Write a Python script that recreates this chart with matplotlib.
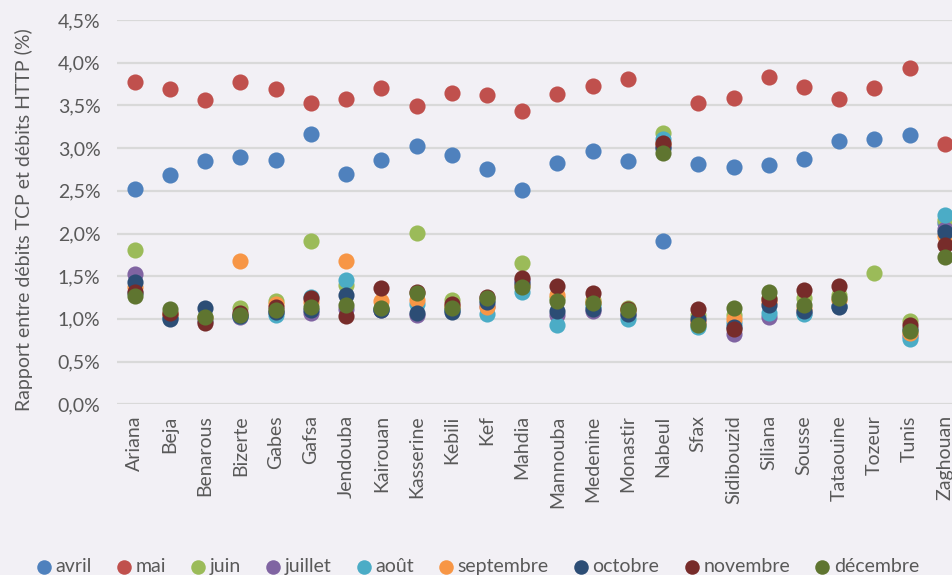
import numpy as np
import matplotlib.pyplot as plt
from matplotlib.ticker import FuncFormatter

nan = np.nan

regions = ["Ariana", "Beja", "Benarous", "Bizerte", "Gabes", "Gafsa", "Jendouba",
           "Kairouan", "Kasserine", "Kebili", "Kef", "Mahdia", "Mannouba",
           "Medenine", "Monastir", "Nabeul", "Sfax", "Sidibouzid", "Siliana",
           "Sousse", "Tataouine", "Tozeur", "Tunis", "Zaghouan"]

months = ["avril", "mai", "juin", "juillet", "août", "septembre",
          "octobre", "novembre", "décembre"]

# ratio TCP / HTTP in %, one list per month (order = regions)
avril = [2.52, 2.68, 2.85, 2.90, 2.86, 3.17, 2.70, 2.86, 3.03, 2.92, 2.76, 2.51,
         2.83, 2.97, 2.85, 1.91, 2.81, 2.78, 2.80, 2.87, 3.08, 3.11, 3.15, 2.12]
mai = [3.77, 3.69, 3.57, 3.77, 3.69, 3.53, 3.58, 3.70, 3.49, 3.65, 3.62, 3.43,
       3.63, 3.73, 3.81, nan, 3.53, 3.59, 3.83, 3.72, 3.58, 3.70, 3.94, 3.05]
juin = [1.81, 1.05, 1.02, 1.13, 1.21, 1.91, 1.40, 1.12, 2.01, 1.22, 1.22, 1.65,
        1.25, 1.22, 1.13, 3.18, 1.05, 1.05, 1.25, 1.24, 1.28, 1.54, 0.98, 2.16]
juillet = [1.53, 1.03, 0.97, 1.02, 1.08, 1.07, 1.12, 1.10, 1.04, 1.10, 1.15, 1.46,
           1.04, 1.09, 1.05, 3.02, 0.95, 0.82, 1.02, 1.07, 1.15, nan, 0.80, 2.05]
aout = [1.30, 1.01, 1.00, 1.03, 1.05, 1.26, 1.46, 1.12, 1.17, 1.10, 1.06, 1.32,
        0.93, 1.15, 1.00, 3.11, 0.90, 0.95, 1.07, 1.06, 1.15, nan, 0.77, 2.22]
septembre = [1.37, 1.06, 1.01, 1.68, 1.18, 1.20, 1.68, 1.21, 1.22, 1.15, 1.14, 1.40,
             1.28, 1.20, 1.10, 3.05, 0.98, 1.00, 1.20, 1.12, 1.22, nan, 0.83, 1.97]
octobre = [1.43, 1.00, 1.13, 1.03, 1.08, 1.10, 1.28, 1.10, 1.07, 1.08, 1.20, 1.42,
           1.09, 1.11, 1.06, 3.00, 1.00, 0.90, 1.16, 1.09, 1.14, nan, 0.88, 2.02]
novembre = [1.32, 1.07, 0.95, 1.07, 1.14, 1.24, 1.03, 1.36, 1.32, 1.17, 1.26, 1.48,
            1.38, 1.30, 1.11, 3.06, 1.11, 0.88, 1.23, 1.34, 1.39, nan, 0.93, 1.87]
decembre = [1.27, 1.11, 1.02, 1.04, 1.10, 1.14, 1.16, 1.13, 1.30, 1.13, 1.25, 1.37,
            1.21, 1.19, 1.10, 2.94, 0.93, 1.13, 1.31, 1.16, 1.25, nan, 0.86, 1.73]

series = [avril, mai, juin, juillet, aout, septembre, octobre, novembre, decembre]
colors = ["#4F81BD", "#C0504D", "#9BBB59", "#8064A2", "#4BACC6", "#F79646",
          "#2C4D75", "#772C2A", "#5F7530"]

plt.rcParams["font.family"] = ["Lato", "DejaVu Sans"]
BG = "#F2F0F5"
TXT = "#595959"

fig = plt.figure(figsize=(9.52, 5.75), dpi=100, facecolor=BG)
ax = fig.add_axes([0.123, 0.297, 0.888, 0.668], facecolor=BG)

x = np.arange(len(regions))
for name, vals, col in zip(months, series, colors):
    ax.scatter(x, vals, s=135, color=col, label=name, linewidths=0, zorder=3)

ax.set_xlim(-0.5, len(regions) - 0.5)
ax.set_ylim(0, 4.5)
ax.set_yticks(np.arange(0, 4.51, 0.5))
ax.yaxis.set_major_formatter(FuncFormatter(lambda v, p: f"{v:.1f}%".replace(".", ",")))
ax.set_xticks(x)
ax.set_xticklabels(regions, rotation=90)
ax.tick_params(axis="both", length=0, labelsize=14, labelcolor=TXT)
ax.tick_params(axis="y", pad=12)
ax.tick_params(axis="x", pad=8)
ax.grid(axis="y", color="#D9D9D9", linewidth=1.6, zorder=0)
ax.set_axisbelow(True)
for s in ax.spines.values():
    s.set_visible(False)

ax.set_ylabel("Rapport entre débits TCP et débits HTTP (%)", fontsize=14,
              color=TXT)
ax.yaxis.set_label_coords(-0.1, 0.48)

fig.legend(loc="lower center", bbox_to_anchor=(0.5, -0.014), ncol=9, frameon=False,
           fontsize=14, labelcolor=TXT, handletextpad=0.05, columnspacing=1.1,
           markerscale=0.9, handlelength=1.1, borderaxespad=0)

fig.savefig("out.png", dpi=100, facecolor=BG)
